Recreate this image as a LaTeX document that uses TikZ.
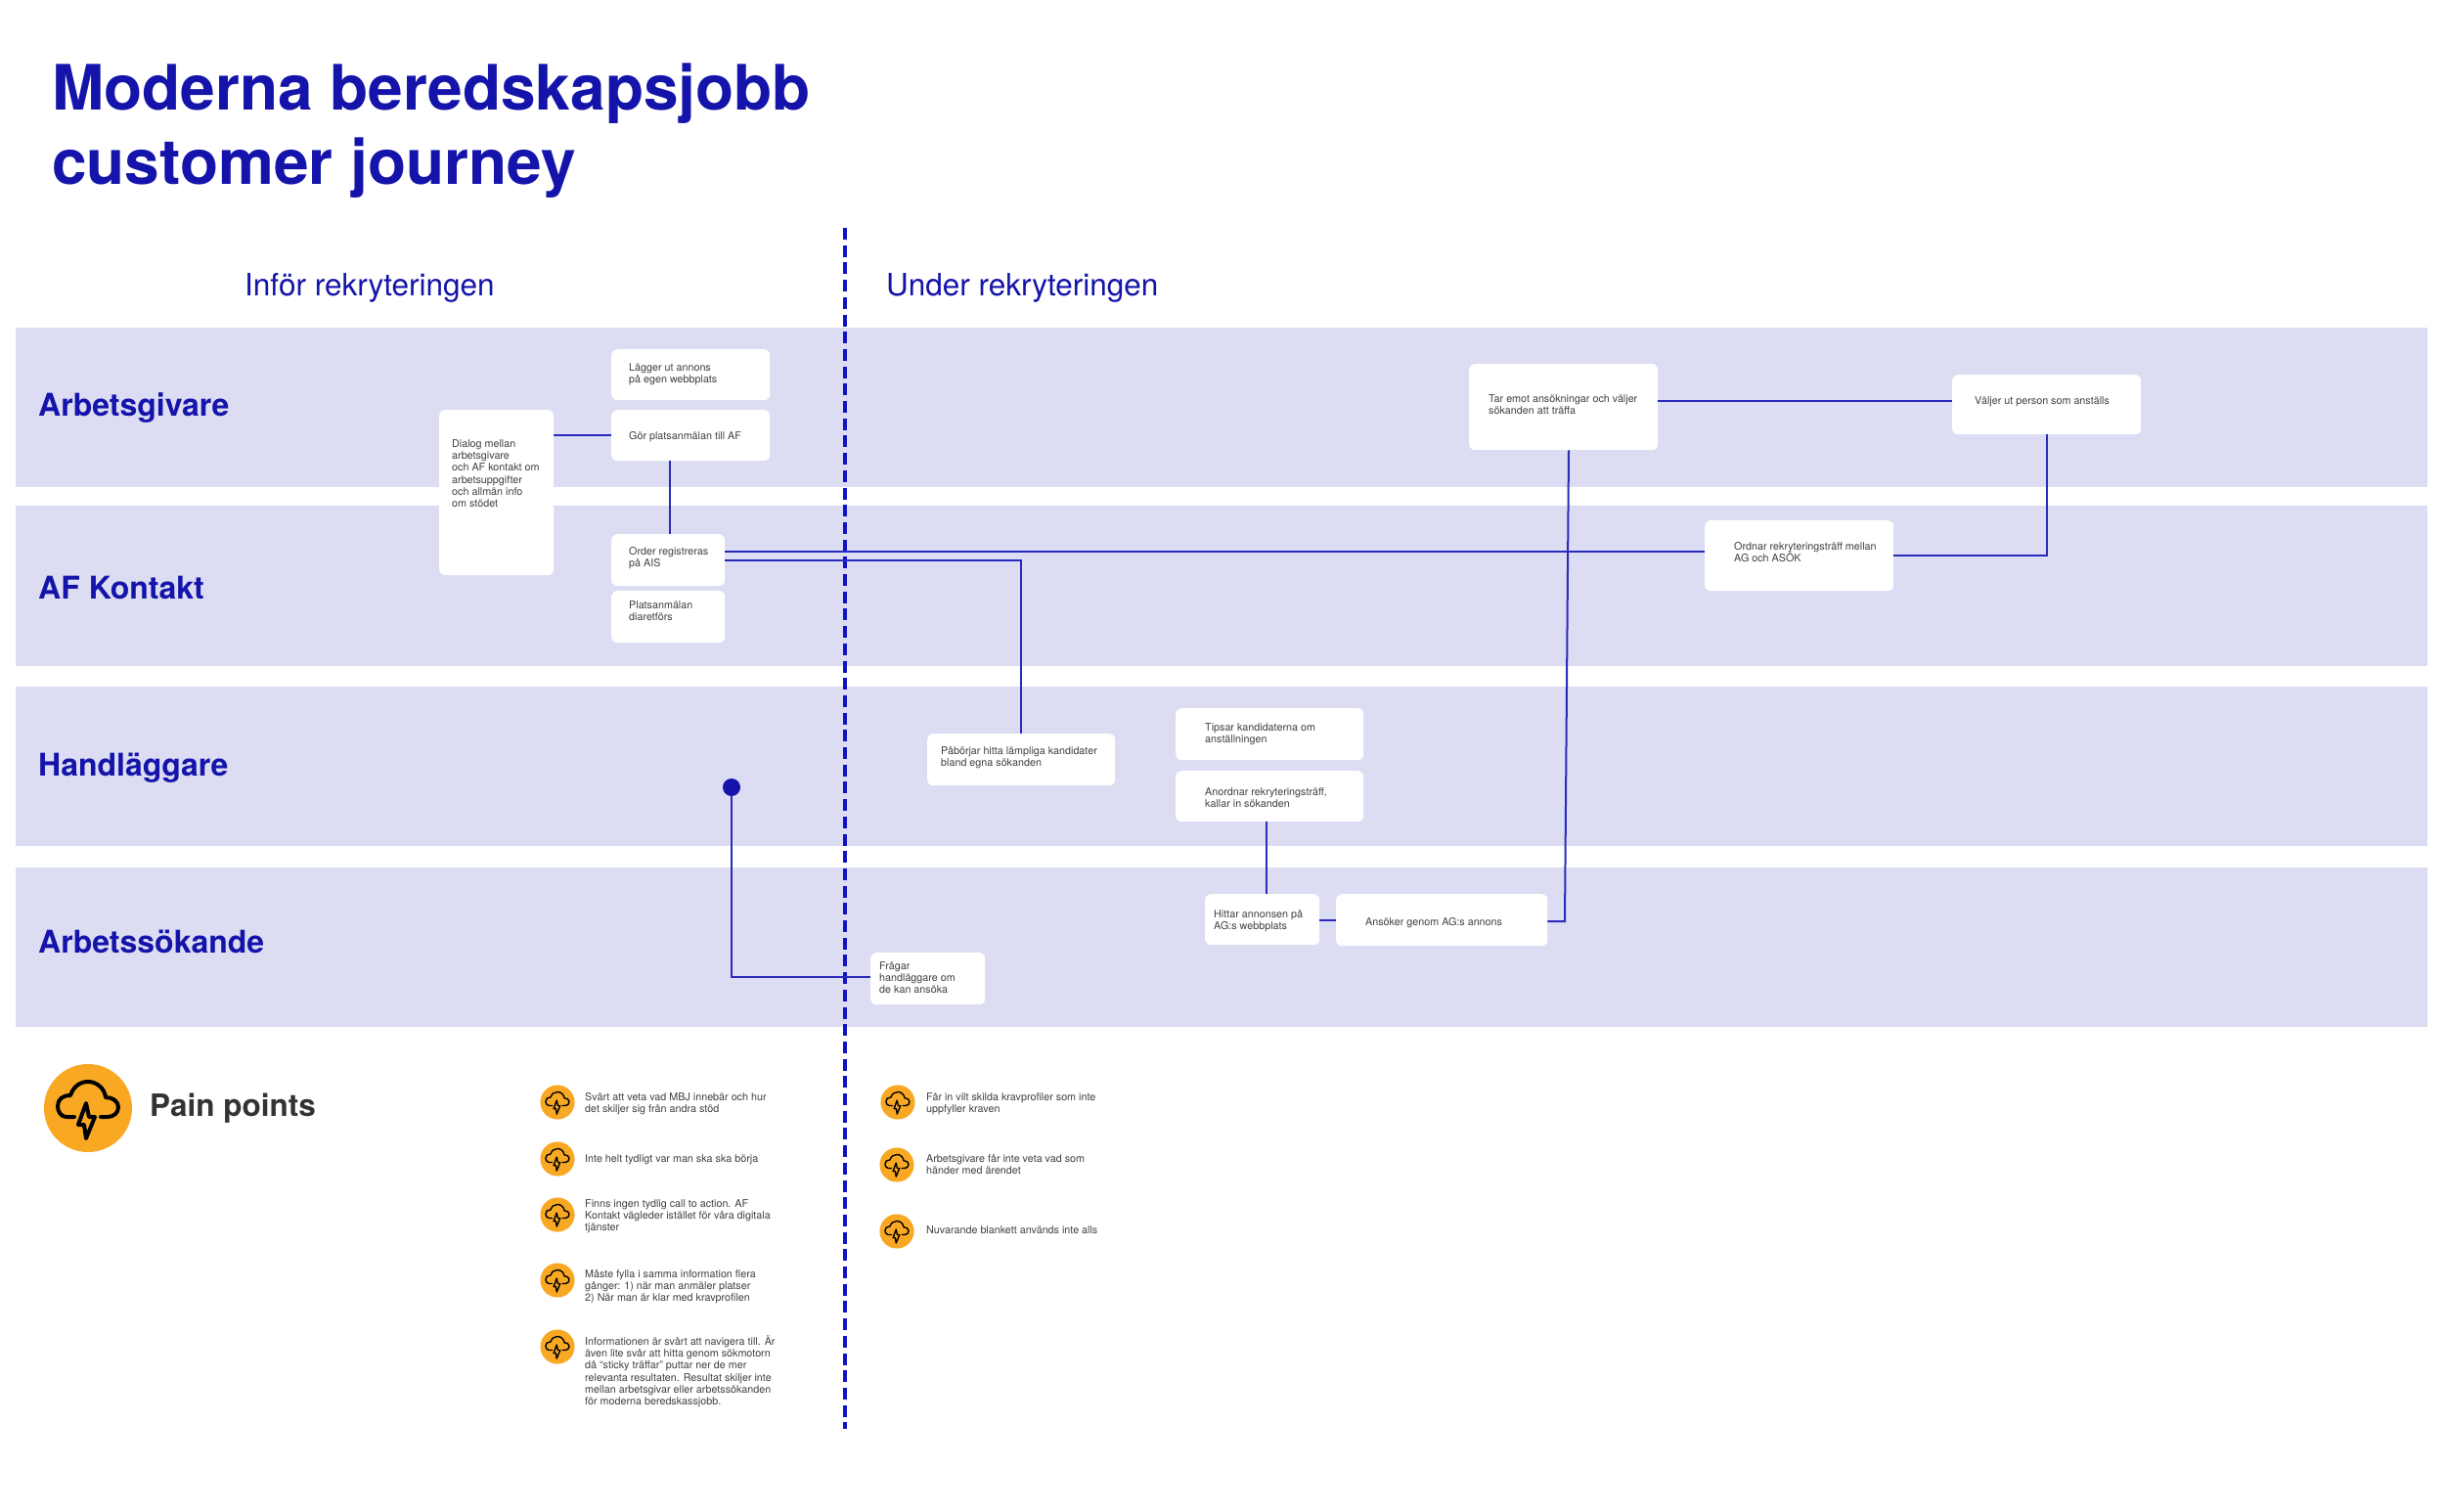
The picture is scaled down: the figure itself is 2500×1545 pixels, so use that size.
\documentclass[tikz,border=0pt]{standalone}
\usepackage{fontspec}
\setmainfont{TeX Gyre Heros}
\definecolor{bandc}{HTML}{DCDCF3}
\definecolor{inkc}{HTML}{1414AA}
\definecolor{linec}{HTML}{2A2ABC}
\definecolor{dashc}{HTML}{1212C4}
\definecolor{orangec}{HTML}{F8A823}
\definecolor{greyc}{HTML}{3F3F3F}
\definecolor{darkc}{HTML}{333333}
\tikzset{
  bandbox/.style={rectangle,fill=bandc,inner sep=0pt,anchor=north west},
  cardbox/.style={rectangle,rounded corners=6pt,fill=white,inner sep=0pt,anchor=north west},
  cardtext/.style={inner sep=0pt,anchor=north west,align=left,text=greyc,font=\fontsize{10.75}{12.33}\selectfont},
  bandlabel/.style={inner sep=0pt,anchor=base west,text=inkc,font=\fontsize{32}{36}\selectfont\bfseries},
  phase/.style={inner sep=0pt,anchor=base west,text=inkc,font=\fontsize{31.5}{36}\selectfont},
  titletext/.style={inner sep=0pt,anchor=base west,text=inkc,font=\fontsize{64}{76}\selectfont\bfseries},
  conn/.style={draw=linec,line width=2pt,line join=miter},
  iconc/.style={circle,fill=orangec,inner sep=0pt}
}
\newcommand{\bandnode}[3]{\node[bandbox,minimum width=2466pt,minimum height=#3-#2] (#1) at (16,#2) {};}
\newcommand{\cardnode}[8]{%
  \node[cardbox,minimum width=#4-#2,minimum height=#5-#3] (#1) at (#2,#3) {};
  \node[cardtext] (#1-t) at (#6,#7-10) {\rule{0pt}{10pt}#8};}
\newcommand{\painicon}[5]{%
  \node[iconc,minimum size=#5*90] (#1) at (#2,#3) {};
  \begin{scope}[shift={(#2,#3)},scale=#5]
    \draw[black,line width=#4pt,line cap=round,line join=round]
      (-14,9) -- (-22,9) .. controls (-28,9) and (-31,3) .. (-31,-2)
      .. controls (-31,-9) and (-26,-13) .. (-18,-13)
      .. controls (-15,-22) and (-8,-27) .. (0,-27)
      .. controls (9,-27) and (17,-20) .. (18,-11)
      .. controls (25,-11) and (31,-7) .. (31,-1)
      .. controls (31,5) and (26,9) .. (20,9) -- (13,9);
    \draw[black,line width=#4pt,line join=round]
      (-2,-5) -- (-10,17) -- (-4,17) -- (-2,31) -- (7,9) -- (1,9) -- cycle;
  \end{scope}}
\newcommand{\paintext}[4]{\node[cardtext] (#1) at (#2,#3-10) {\rule{0pt}{10pt}#4};}
\begin{document}
\begin{tikzpicture}[x=1pt,y=-1pt]
\useasboundingbox (0,0) rectangle (2500,1545);
\fill[white] (0,0) rectangle (2500,1545);

\node[titletext] (titleA) at (53,112) {Moderna beredskapsjobb};
\node[titletext] (titleB) at (53,188) {customer journey};

\node[phase] (phaseA) at (250,302) {Inför rekryteringen};
\node[phase] (phaseB) at (906,302) {Under rekryteringen};

\bandnode{bandA}{335}{498}
\bandnode{bandB}{517}{681}
\bandnode{bandC}{702}{865}
\bandnode{bandD}{887}{1050}

\node[bandlabel] (labA) at (39,425) {Arbetsgivare};
\node[bandlabel] (labB) at (39,612) {AF Kontakt};
\node[bandlabel] (labC) at (39,793) {Handläggare};
\node[bandlabel] (labD) at (39,974) {Arbetssökande};

\coordinate (divtop) at (864,233);
\coordinate (divbot) at (864,1461);
\draw[dashc,line width=3.2pt,dash pattern=on 12pt off 5.7pt] (divtop) -- (divbot);

\cardnode{lagger}{625}{357}{787}{409}{643}{379}{Lägger ut annons\\på egen webbplats}
\cardnode{gor}{625}{419}{787}{471}{643}{449}{Gör platsanmälan till AF}
\cardnode{dialog}{449}{419}{566}{588}{462}{457}{Dialog mellan\\arbetsgivare\\och AF kontakt om\\arbetsuppgifter\\och allmän info\\om stödet}
\cardnode{order}{625}{546}{741}{599}{643}{567}{Order registreras\\på AIS}
\cardnode{diaret}{625}{604}{741}{657}{643}{622}{Platsanmälan\\diaretförs}
\cardnode{pabor}{948}{750}{1140}{803}{962}{771}{Påbörjar hitta lämpliga kandidater\\bland egna sökanden}
\cardnode{tipsar}{1202}{724}{1394}{777}{1232}{747}{Tipsar kandidaterna om\\anställningen}
\cardnode{anordnar}{1202}{788}{1394}{840}{1232}{813}{Anordnar rekryteringsträff,\\kallar in sökanden}
\cardnode{hittar}{1232}{914}{1349}{966}{1241}{938}{Hittar annonsen på\\AG:s webbplats}
\cardnode{ansoker}{1366}{914}{1582}{967}{1396}{946}{Ansöker genom AG:s annons}
\cardnode{fragar}{890}{974}{1007}{1027}{899}{991}{Frågar\\handläggare om\\de kan ansöka}
\cardnode{taremot}{1502}{372}{1695}{460}{1522}{411}{Tar emot ansökningar och väljer\\sökanden att träffa}
\cardnode{valjer}{1996}{383}{2189}{444}{2019}{413}{Väljer ut person som anställs}
\cardnode{ordnar}{1743}{532}{1936}{604}{1773}{562}{Ordnar rekryteringsträff mellan\\AG och ASÖK}

\node[circle,fill=inkc,inner sep=0pt,minimum size=18pt] (dot) at (748,805) {};
\coordinate (bendA) at (1600,942);

\draw[conn] (dialog.east |- gor.west) -- (gor.west);
\draw[conn] ([xshift=60pt]gor.south west) -- ([xshift=60pt]order.north west);
\draw[conn] ([yshift=-18pt]order.north east) -- ([yshift=-32pt]ordnar.north west);
\draw[conn] ([yshift=-27pt]order.north east) -| (pabor.north);
\draw[conn] ([yshift=-38pt]taremot.north east) -- ([yshift=-27pt]valjer.north west);
\draw[conn] (valjer.south) |- ([yshift=-36pt]ordnar.north east);
\draw[conn] ([yshift=-28pt]ansoker.north east) -- (bendA) -- ([xshift=102pt]taremot.south west);
\draw[conn] ([xshift=93pt]anordnar.south west) -- ([xshift=63pt]hittar.north west);
\draw[conn] ([yshift=-27pt]hittar.north east) -- ([yshift=-27pt]ansoker.north west);
\draw[conn] (dot) |- ([yshift=-25pt]fragar.north west);

\painicon{bigicon}{90}{1133}{4}{1}
\node[inner sep=0pt,anchor=base west,text=darkc,font=\fontsize{31.5}{38}\selectfont\bfseries] (pain) at (153,1141) {Pain points};

\painicon{iconA}{570}{1127}{1.4}{0.39}
\painicon{iconB}{570}{1185}{1.4}{0.39}
\painicon{iconC}{570}{1242}{1.4}{0.39}
\painicon{iconD}{570}{1309}{1.4}{0.39}
\painicon{iconE}{570}{1377}{1.4}{0.39}
\painicon{iconF}{918}{1127}{1.4}{0.39}
\painicon{iconG}{917}{1191}{1.4}{0.39}
\painicon{iconH}{917}{1259}{1.4}{0.39}

\paintext{painA}{598}{1125}{Svårt att veta vad MBJ innebär och hur\\det skiljer sig från andra stöd}
\paintext{painB}{598}{1188}{Inte helt tydligt var man ska ska börja}
\paintext{painC}{598}{1234}{Finns ingen tydlig call to action. AF\\Kontakt vägleder istället för våra digitala\\tjänster}
\paintext{painD}{598}{1306}{Måste fylla i samma information flera\\gånger: 1) när man anmäler platser\\2) När man är klar med kravprofilen}
\paintext{painE}{598}{1375}{Informationen är svårt att navigera till. Är\\även lite svår att hitta genom sökmotorn\\då “sticky träffar” puttar ner de mer\\relevanta resultaten. Resultat skiljer inte\\mellan arbetsgivar eller arbetssökanden\\för moderna beredskassjobb.}
\paintext{painF}{947}{1125}{Får in vilt skilda kravprofiler som inte\\uppfyller kraven}
\paintext{painG}{947}{1188}{Arbetsgivare får inte veta vad som\\händer med ärendet}
\paintext{painH}{947}{1261}{Nuvarande blankett används inte alls}
\end{tikzpicture}
\end{document}
